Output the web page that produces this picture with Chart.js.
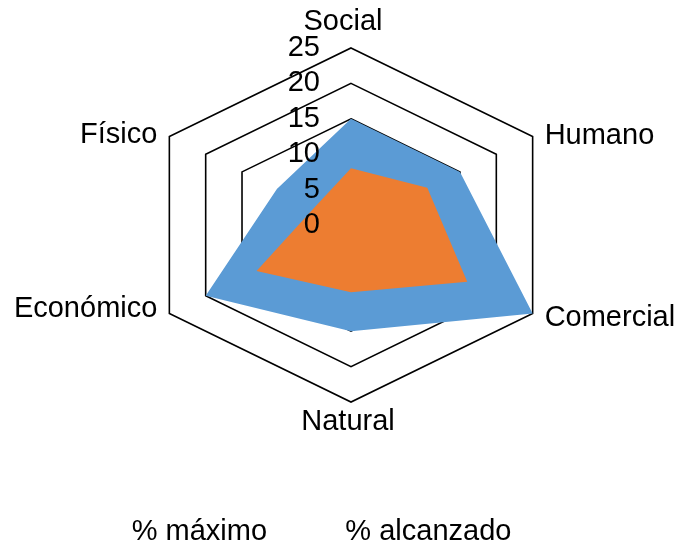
<!DOCTYPE html>
<html>
<head>
<meta charset="utf-8">
<script src="https://cdn.jsdelivr.net/npm/chart.js"></script>
<style>
  html, body { margin: 0; padding: 0; background: #fff; }
  #wrap { width: 677px; height: 548px; position: relative; }
</style>
</head>
<body>
<div id="wrap"><canvas id="radar"></canvas></div>
<script>
// datos del gráfico
const categories = ["Social", "Humano", "Comercial", "Natural", "Económico", "Físico"];
const maximo = [15, 15, 25, 15, 20, 10.2];
const alcanzado = [8, 10.5, 16, 9.5, 13, 5];
const seriesNames = ["% máximo", "% alcanzado"];
const tickStep = 5;
const tickMax = 25;

const FONT = '"Liberation Sans", Arial, sans-serif';

/** Escala radial como la de Excel: polígono estirado en horizontal y
 *  un margen fijo reservado para las etiquetas */
class ExcelRadialScale extends Chart.RadialLinearScale {
  static id = "excelRadial";
  fit() {
    const room = this.options.labelRoom;
    this.setCenterPoint(room.left, room.right, room.top, room.bottom);
  }
  getPointPosition(index, distance, additionalAngle = 0) {
    const p = super.getPointPosition(index, distance, additionalAngle);
    return { x: this.xCenter + (p.x - this.xCenter) * this.options.stretchX, y: p.y, angle: p.angle };
  }
}
Chart.register(ExcelRadialScale);

// etiquetas de ejes y de valores, dibujadas encima de las áreas
const excelLabels = {
  id: "excelLabels",
  afterDraw(chart) {
    const scale = chart.scales.r;
    const ctx = chart.ctx;
    ctx.save();
    ctx.font = "29px " + FONT;
    ctx.fillStyle = "#000";
    ctx.textBaseline = "middle";

    ctx.textAlign = "right";
    scale.ticks.forEach((t) => {
      const d = scale.getDistanceFromCenterForValue(t.value);
      ctx.fillText(String(t.value), scale.xCenter - 31, scale.yCenter - d);
    });

    categories.forEach((name, i) => {
      const p = scale.getPointPosition(i, scale.drawingArea);
      const dx = p.x - scale.xCenter;
      const below = p.y > scale.yCenter;
      let x = p.x;
      let y = p.y;
      if (Math.abs(dx) < 1) {
        ctx.textAlign = "center";
        if (below) { x -= 3; y += 20; } else { x -= 8; y -= 26; }
      } else if (dx > 0) {
        ctx.textAlign = "left";
        x += 12; y += below ? 4 : -1;
      } else {
        ctx.textAlign = "right";
        x -= 12; y += below ? -5 : -2;
      }
      ctx.fillText(name, x, y);
    });
    ctx.restore();
  },
};

const ctx = document.getElementById("radar").getContext("2d");
new Chart(ctx, {
  type: "radar",
  plugins: [excelLabels],
  data: {
    labels: categories,
    datasets: [
      {
        label: seriesNames[0],
        data: maximo,
        backgroundColor: "#5B9BD5",
        borderColor: "#5B9BD5",
        borderWidth: 0,
        pointRadius: 0,
        fill: true,
        order: 2,
      },
      {
        label: seriesNames[1],
        data: alcanzado,
        backgroundColor: "#ED7D31",
        borderColor: "#ED7D31",
        borderWidth: 0,
        pointRadius: 0,
        fill: true,
        order: 1,
      },
    ],
  },
  options: {
    responsive: true,
    maintainAspectRatio: false,
    animation: false,
    layout: {
      padding: { left: 53.4, right: 27.4, top: 0, bottom: -8.5 },
    },
    plugins: {
      tooltip: { enabled: false },
      legend: {
        position: "bottom",
        align: "start",
        labels: {
          boxWidth: 0,
          boxHeight: 0,
          padding: 63.8,
          color: "#000",
          font: { family: FONT, size: 29 },
          sort: (a, b) => a.datasetIndex - b.datasetIndex,
        },
      },
    },
    scales: {
      r: {
        type: "excelRadial",
        min: 0,
        max: tickMax,
        stretchX: 1.185,
        labelRoom: { left: 49, right: 49, top: 47, bottom: 49 },
        ticks: { display: false, stepSize: tickStep },
        pointLabels: { display: false },
        angleLines: { display: false },
        grid: { color: "#000", lineWidth: 1.6 },
      },
    },
  },
});
</script>
</body>
</html>
